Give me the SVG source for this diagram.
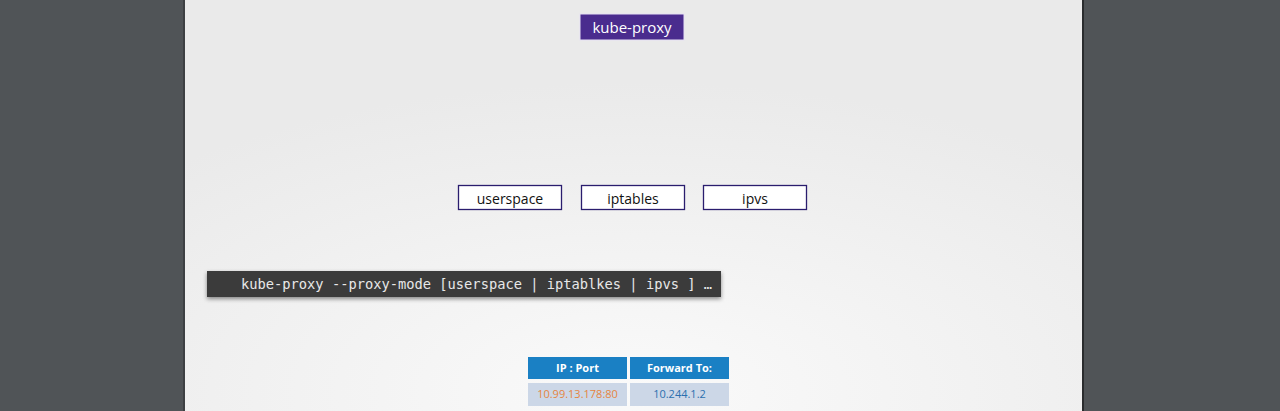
<svg xmlns="http://www.w3.org/2000/svg" width="1280" height="411" viewBox="0 0 1280 411">
<defs>
<radialGradient id="bg" cx="0.5" cy="0.95" r="0.75">
<stop offset="0" stop-color="#fafafa"/>
<stop offset="1" stop-color="#eaeaea"/>
</radialGradient>
<filter id="sh" x="-5%" y="-30%" width="110%" height="180%">
<feDropShadow dx="0" dy="2" stdDeviation="2" flood-color="#000" flood-opacity="0.45"/>
</filter>
<style>
.mode rect{fill:#ffffff;stroke:#2a1d6e;stroke-width:1.3}
.lbl{font-family:"Open Sans","Noto Sans",sans-serif;font-size:14px;fill:#111;text-anchor:middle}
.th{fill:#1a80c4}
.td{fill:#ccd7e7}
.tht{font-family:"Open Sans","Noto Sans",sans-serif;font-size:11px;font-weight:bold;fill:#fff;text-anchor:middle}
.tdt{font-family:"Open Sans","Noto Sans",sans-serif;font-size:11px;text-anchor:middle}
</style>
</defs>
<rect x="0" y="0" width="1280" height="411" fill="#505457"/>
<rect x="183" y="0" width="2" height="411" fill="#3d4043"/>
<rect x="185" y="0" width="897" height="411" fill="url(#bg)"/>
<rect x="1082" y="0" width="2" height="411" fill="#2a2c2e"/>
<g id="kube-proxy">
<rect x="580" y="14" width="104" height="26" fill="#4a2c8e" stroke="#e6e0f4" stroke-width="1"/>
<text x="632" y="33" class="lbl" style="fill:#ffffff;font-size:15px">kube-proxy</text>
</g>
<g id="connectors"></g>
<g id="userspace" class="mode">
<rect x="458.5" y="185.5" width="103" height="24"/>
<text x="510" y="204" class="lbl">userspace</text>
</g>
<g id="iptables" class="mode">
<rect x="581.5" y="185.5" width="103" height="24"/>
<text x="633" y="204" class="lbl">iptables</text>
</g>
<g id="ipvs" class="mode">
<rect x="703.5" y="185.5" width="103" height="24"/>
<text x="755" y="204" class="lbl">ipvs</text>
</g>
<g id="command">
<rect x="207" y="271" width="514" height="26" fill="#3b3b3b" filter="url(#sh)"/>
<text x="241" y="289" font-family="'DejaVu Sans Mono',monospace" font-size="14" fill="#e8e8e8" textLength="471" lengthAdjust="spacingAndGlyphs" xml:space="preserve">kube-proxy --proxy-mode [userspace | iptablkes | ipvs ] …</text>
</g>
<g id="table">
<rect x="528" y="357" width="99" height="22" class="th"/>
<rect x="630" y="357" width="99" height="22" class="th"/>
<rect x="528" y="383" width="99" height="23" class="td"/>
<rect x="630" y="383" width="99" height="23" class="td"/>
<text x="577.5" y="372" class="tht">IP : Port</text>
<text x="679.5" y="372" class="tht">Forward To:</text>
<text x="577.5" y="398" class="tdt" fill="#e5853f">10.99.13.178:80</text>
<text x="679.5" y="398" class="tdt" fill="#2b6fae">10.244.1.2</text>
</g>
</svg>
